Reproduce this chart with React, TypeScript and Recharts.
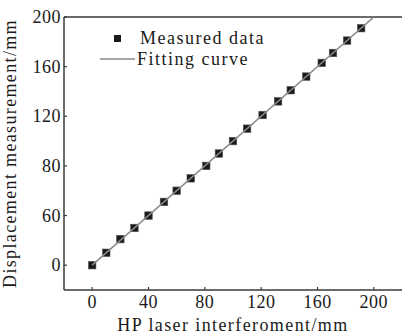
import React from 'react';
import { ScatterChart, Scatter, XAxis, YAxis, ReferenceLine } from 'recharts';

const measuredX = [0, 10, 20, 30, 40, 51, 60, 70, 81, 90, 100, 110, 121, 132, 141, 152, 163, 171, 181, 191];
const measuredY = [0, 10, 21, 30, 40, 51, 60, 70, 80, 90, 100, 110, 121, 132, 141, 152, 163, 171, 181, 191];
const fitX = [0, 200];
const fitY = [0, 200];
const xTicks = [0, 40, 80, 120, 160, 200];
const xTickLabels = ['0', '40', '80', '120', '160', '200'];
const yTicks = [0, 40, 80, 120, 160, 200];
const yTickLabels = ['0', '60', '80', '120', '160', '200'];
const seriesNames = ['Measured data', 'Fitting curve'];
const xTitle = 'HP laser interferoment/mm';
const yTitle = 'Displacement measurement/mm';

const measured = measuredX.map((x, i) => ({ x, y: measuredY[i] }));
const fit = fitX.map((x, i) => ({ x, y: fitY[i] }));

const FONT = '"Liberation Serif", "Times New Roman", serif';
const AXIS = '#3a3a3a';
const TEXT = '#1a1a1a';
const LINE = '#8a8a8a';

const SquareShape = (props: any) => {
  const { cx, cy } = props;
  if (cx == null || cy == null) return null;
  return <rect x={cx - 3.75} y={cy - 3.75} width={7.5} height={7.5} fill="#1a1a1a" stroke="#555" strokeWidth={0.6} />;
};

const NoShape = () => null;

const XTick = (props: any) => {
  const { x, y, payload } = props;
  const idx = xTicks.indexOf(payload.value);
  return (
    <g>
      <line x1={x} x2={x} y1={y - 4} y2={y - 7} stroke={AXIS} strokeWidth={1.2} />
      <text x={x} y={y + 14} textAnchor="middle" fontFamily={FONT} fontSize={18} fill={TEXT} letterSpacing={0.5}>
        {idx >= 0 ? xTickLabels[idx] : payload.value}
      </text>
    </g>
  );
};

const YTick = (props: any) => {
  const { x, y, payload } = props;
  const idx = yTicks.indexOf(payload.value);
  return (
    <g>
      <line x1={x + 3} x2={x + 6} y1={y} y2={y} stroke={AXIS} strokeWidth={1.2} />
      <text x={x} y={y + 6} textAnchor="end" fontFamily={FONT} fontSize={18} fill={TEXT} letterSpacing={0.5}>
        {idx >= 0 ? yTickLabels[idx] : payload.value}
      </text>
    </g>
  );
};

const LegendBox = () => (
  <div style={{ position: 'absolute', left: 100, top: 28, fontFamily: FONT, fontSize: 18, color: TEXT, letterSpacing: 1.5, lineHeight: '21px' }}>
    <div style={{ display: 'flex', alignItems: 'center' }}>
      <svg width={40} height={21}>
        <rect x={14} y={7} width={7} height={7} fill="#1a1a1a" />
      </svg>
      <span>{seriesNames[0]}</span>
    </div>
    <div style={{ display: 'flex', alignItems: 'center' }}>
      <svg width={37} height={21}>
        <line x1={0} x2={35} y1={10} y2={10} stroke={LINE} strokeWidth={1.5} />
      </svg>
      <span>{seriesNames[1]}</span>
    </div>
  </div>
);

export default function App() {
  return (
    <div style={{ position: 'absolute', left: 0, top: 0, width: 402, height: 336, background: '#fff' }}>
      <ScatterChart width={402} height={336} margin={{ top: 17, right: 0, bottom: 0, left: 0 }}>
        <XAxis
          type="number"
          dataKey="x"
          domain={[-20, 220]}
          ticks={xTicks}
          allowDataOverflow
          height={46}
          tickLine={false}
          tickSize={0}
          tickMargin={4}
          stroke={AXIS}
          strokeWidth={1.5}
          tick={<XTick />}
          label={{ value: xTitle, position: 'insideBottom', offset: 5, fontFamily: FONT, fontSize: 18, fill: TEXT, letterSpacing: 1.4 }}
        />
        <YAxis
          type="number"
          dataKey="y"
          domain={[-20, 200]}
          ticks={yTicks}
          allowDataOverflow
          width={64}
          tickLine={false}
          tickSize={0}
          tickMargin={3}
          stroke={AXIS}
          strokeWidth={1.5}
          tick={<YTick />}
          label={{ value: yTitle, angle: -90, position: 'insideLeft', offset: 0, dx: 10, fontFamily: FONT, fontSize: 18, fill: TEXT, letterSpacing: 1.35, style: { textAnchor: 'middle' } }}
        />
        <ReferenceLine y={200} stroke={AXIS} strokeWidth={1.5} />
        <Scatter name={seriesNames[0]} data={measured} shape={<SquareShape />} isAnimationActive={false} />
        <Scatter name={seriesNames[1]} data={fit} line={{ stroke: LINE, strokeWidth: 1.5 }} shape={<NoShape />} isAnimationActive={false} />
      </ScatterChart>
      <LegendBox />
    </div>
  );
}
